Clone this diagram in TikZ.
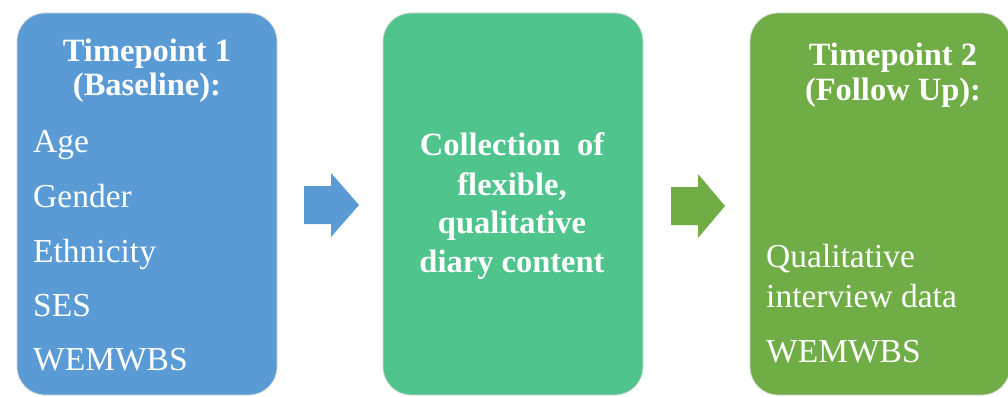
\documentclass[tikz,border=0pt]{standalone}
\usepackage{fontspec}
\setmainfont{Liberation Serif}
\definecolor{stageblue}{HTML}{5B9BD5}
\definecolor{stagemint}{HTML}{4FC48C}
\definecolor{stageolive}{HTML}{70AD47}
\tikzset{
  stagebox/.style={rectangle, rounded corners=28pt, draw=gray!30, line width=0.8pt,
    minimum height=382pt, inner sep=0pt},
  headtext/.style={text=white, font=\fontsize{32.5}{38}\selectfont\bfseries, inner sep=0pt, anchor=base},
  itemtext/.style={text=white, font=\fontsize{33.5}{38}\selectfont, inner sep=0pt, anchor=base west},
}
\begin{document}
\begin{tikzpicture}[x=1pt,y=-1pt]
\useasboundingbox (0,0) rectangle (1008,396);

% three stage boxes
\node[stagebox, fill=stageblue,  minimum width=260pt] (t1)   at (147,204) {};
\node[stagebox, fill=stagemint,  minimum width=260pt] (diary) at (513,204) {};
\node[stagebox, fill=stageolive, minimum width=260pt] (t2)   at (880,204) {};

% block arrows between the stages
\fill[stageblue]  (304,186) -- (331,186) -- (331,173) -- (359,205)
                  -- (331,237) -- (331,224) -- (304,224) -- cycle;
\fill[stageolive] (671,187) -- (698,187) -- (698,174) -- (725,206)
                  -- (698,238) -- (698,225) -- (671,225) -- cycle;

% Timepoint 1
\node[headtext] (t1a) at (147,61) {Timepoint 1};
\node[headtext] (t1b) at (147,95) {(Baseline):};
\node[itemtext] (age) at (33,152) {Age};
\node[itemtext] (gen) at (33,207) {Gender};
\node[itemtext] (eth) at (33,262) {Ethnicity};
\node[itemtext] (ses) at (33,316) {SES};
\node[itemtext] (wm1) at (33,370) {WEMWBS};

% diary stage
\node[headtext] (d1) at (512,155) {Collection\ \ of};
\node[headtext] (d2) at (512,195) {flexible,};
\node[headtext] (d3) at (512,233) {qualitative};
\node[headtext] (d4) at (512,272) {diary content};

% Timepoint 2
\node[headtext] (t2a) at (893,65) {Timepoint 2};
\node[headtext] (t2b) at (893,100) {(Follow Up):};
\node[itemtext] (qual) at (766,267) {Qualitative};
\node[itemtext] (intv) at (766,307) {interview data};
\node[itemtext] (wm2)  at (766,362) {WEMWBS};
\end{tikzpicture}
\end{document}
